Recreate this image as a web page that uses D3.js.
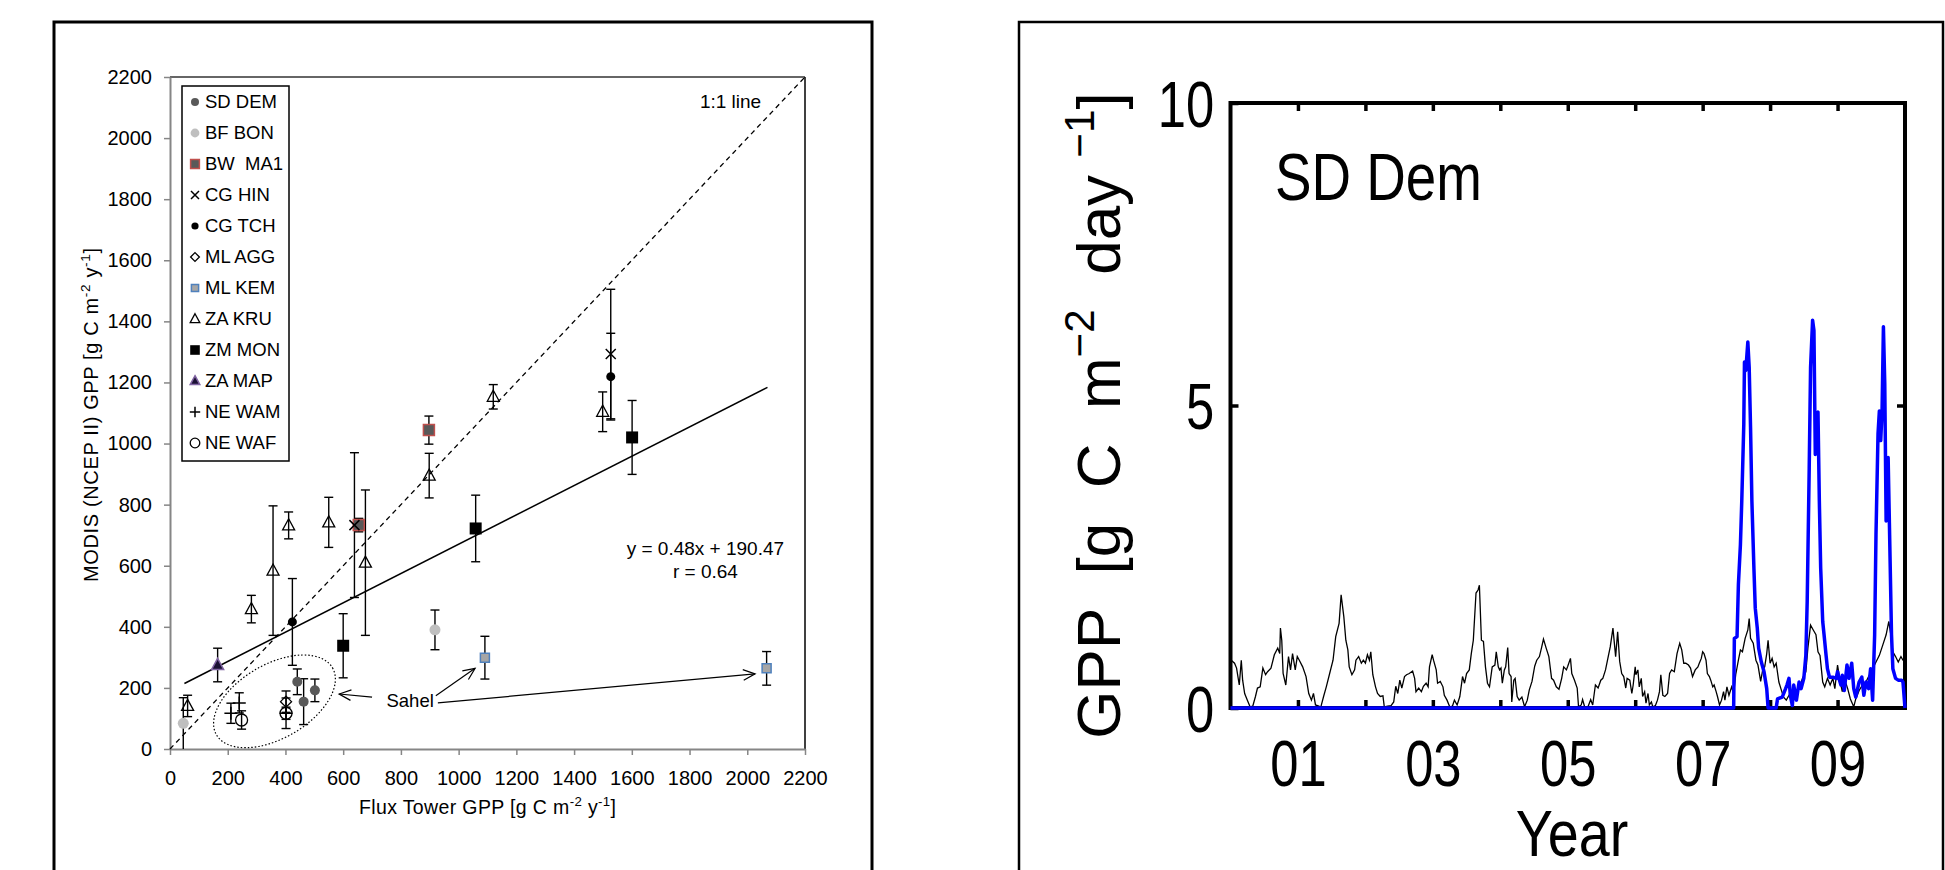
<!DOCTYPE html>
<html>
<head>
<meta charset="utf-8">
<script src="https://cdn.jsdelivr.net/npm/d3@7"></script>
<style>
  body { margin: 0; background: #fff; }
  svg { display: block; }
</style>
</head>
<body>
<div id="chart"></div>
<script>
// ---- left panel: MODIS vs flux tower GPP (one entry per point) ----
const siteNames = ['SD DEM', 'BF BON', 'BW  MA1', 'CG HIN', 'CG TCH', 'ML AGG',
                   'ML KEM', 'ZA KRU', 'ZM MON', 'ZA MAP', 'NE WAM', 'NE WAF'];
const pointSite = ['SD DEM', 'SD DEM', 'SD DEM', 'BF BON', 'BF BON', 'BW  MA1', 'BW  MA1',
                   'CG HIN', 'CG HIN', 'CG TCH', 'CG TCH', 'ML AGG', 'ML KEM', 'ML KEM',
                   'ZA KRU', 'ZA KRU', 'ZA KRU', 'ZA KRU', 'ZA KRU', 'ZA KRU', 'ZA KRU', 'ZA KRU', 'ZA KRU',
                   'ZM MON', 'ZM MON', 'ZM MON', 'ZA MAP', 'NE WAM', 'NE WAM', 'NE WAM', 'NE WAF', 'NE WAF'];
const towerGPP  = [441, 463, 502, 46, 918, 654, 897, 639, 1527, 424, 1527, 402, 1091, 2067,
                   61, 282, 357, 411, 550, 677, 898, 1120, 1499, 600, 1059, 1601, 165, 211, 240, 402, 248, 402];
const modisGPP  = [220, 155, 192, 84, 390, 733, 1044, 733, 1293, 416, 1219, 155, 299, 264,
                   141, 458, 584, 732, 742, 610, 895, 1153, 1104, 338, 722, 1020, 275, 117, 151, 117, 95, 117];
const modisErr  = [42, 75, 37, 84, 65, 22, 46, 237, 212, 142, 142, 35, 70, 55,
                   35, 45, 212, 44, 82, 238, 73, 40, 65, 105, 109, 121, 55, 33, 33, 20, 30, 50];
const gppTicks = [0, 200, 400, 600, 800, 1000, 1200, 1400, 1600, 1800, 2000, 2200];
const trendSlope = 0.48;
const trendIntercept = 190.47;
const trendR = 0.64;
const trendRange = [50, 2070];

// ---- right panel: SD Dem daily GPP time series ----
const modisDemYear = [
  2000.01,2000.06,2000.09,2000.13,2000.16,2000.18,2000.21,2000.25,2000.29,2000.33,2000.37,2000.40,2000.44,2000.48,
  2000.52,2000.55,2000.60,2000.65,2000.70,2000.73,2000.74,2000.76,2000.78,2000.82,2000.86,2000.89,2000.92,2000.96,
  2000.99,2001.02,2001.07,2001.12,2001.16,2001.20,2001.23,2001.26,2001.31,2001.34,2001.38,2001.42,2001.47,2001.52,
  2001.56,2001.61,2001.64,2001.68,2001.71,2001.74,2001.76,2001.80,2001.84,2001.86,2001.90,2001.94,2001.97,
  2002.00,2002.03,2002.06,2002.08,2002.11,2002.15,2002.18,2002.22,2002.26,2002.28,2002.33,2002.38,2002.42,2002.45,
  2002.48,2002.51,2002.54,2002.58,2002.61,2002.65,2002.70,2002.73,2002.75,2002.79,2002.83,2002.86,2002.90,2002.93,
  2002.95,2002.99,2003.01,2003.05,2003.07,2003.11,2003.15,2003.17,2003.21,2003.25,2003.29,2003.32,2003.36,2003.40,
  2003.44,2003.47,2003.50,2003.54,2003.57,2003.60,2003.64,2003.67,2003.69,2003.72,2003.75,2003.78,2003.81,2003.84,
  2003.88,2003.92,2003.94,2003.97,2003.99,
  2004.01,2004.03,2004.06,2004.08,2004.11,2004.13,2004.16,2004.17,2004.20,2004.22,2004.25,2004.28,2004.32,2004.36,
  2004.40,2004.43,2004.47,2004.51,2004.54,2004.58,2004.61,2004.64,2004.68,2004.72,2004.76,2004.79,2004.83,2004.87,
  2004.91,2004.94,2004.98,2005.00,2005.04,2005.06,2005.10,2005.14,2005.16,2005.20,2005.22,2005.25,2005.30,2005.34,
  2005.37,2005.41,2005.45,2005.49,2005.52,2005.56,2005.60,2005.63,2005.67,2005.71,2005.74,2005.77,2005.80,2005.83,
  2005.86,2005.88,2005.92,2005.95,2005.97,
  2006.00,2006.01,2006.04,2006.06,2006.09,2006.11,2006.14,2006.16,2006.19,2006.21,2006.24,2006.26,2006.30,2006.33,
  2006.36,2006.38,2006.41,2006.44,2006.48,2006.51,2006.54,2006.58,2006.62,2006.66,2006.69,2006.72,2006.75,2006.79,
  2006.82,2006.85,2006.89,2006.93,2006.95,2006.98,2007.00,2007.02,2007.05,2007.07,2007.10,2007.12,2007.15,2007.17,
  2007.20,2007.22,2007.25,2007.28,2007.31,2007.33,2007.36,2007.39,2007.43,2007.46,2007.49,2007.53,2007.56,2007.59,
  2007.63,2007.67,2007.69,2007.71,2007.75,2007.79,2007.82,2007.86,2007.89,2007.92,2007.95,2007.97,2008.00,2008.03,
  2008.06,2008.09,
  2008.13,2008.16,2008.20,2008.24,2008.28,2008.33,2008.38,2008.43,2008.48,2008.53,2008.56,2008.60,2008.64,2008.68,
  2008.71,2008.74,2008.78,2008.81,2008.85,2008.89,2008.93,2008.96,2009.00,2009.04,2009.07,2009.11,2009.15,2009.19,
  2009.24,2009.27,2009.32,2009.37,2009.42,2009.47,2009.52,2009.57,2009.62,2009.67,2009.72,2009.76,2009.79,2009.82,
  2009.86,2009.90,2009.94,2009.97,2010.00];
const modisDemGPP = [
  0.79,0.74,0.66,0.38,0.79,0.46,0.24,0.13,0.02,0.03,0.19,0.33,0.35,0.66,
  0.55,0.60,0.66,0.88,0.99,0.90,1.32,1.12,0.57,0.38,0.85,0.63,0.90,0.63,
  0.85,0.79,0.68,0.52,0.24,0.13,0.24,0.05,0.03,0.02,0.19,0.35,0.57,0.79,
  1.18,1.40,1.87,1.51,1.12,0.96,0.68,0.55,0.63,0.79,0.85,0.74,0.79,
  0.74,0.88,0.79,0.93,0.55,0.35,0.24,0.19,0.20,0.02,0.03,0.04,0.10,0.36,
  0.24,0.46,0.33,0.52,0.55,0.57,0.61,0.49,0.27,0.33,0.27,0.36,0.41,0.35,
  0.68,0.88,0.79,0.63,0.41,0.44,0.35,0.21,0.13,0.02,0.03,0.13,0.05,0.19,
  0.52,0.41,0.57,0.63,0.90,1.12,1.90,1.95,2.03,1.12,1.10,0.68,0.41,0.35,
  0.68,0.71,0.93,0.68,0.63,
  0.66,0.41,0.63,0.68,1.00,0.57,0.52,0.10,0.46,0.49,0.19,0.13,0.18,0.02,
  0.13,0.30,0.44,0.69,0.79,0.85,0.99,1.14,0.99,0.85,0.49,0.46,0.35,0.31,
  0.49,0.68,0.63,0.69,0.82,0.57,0.46,0.33,0.02,0.05,0.14,0.02,0.02,0.14,
  0.05,0.38,0.33,0.46,0.49,0.63,0.85,1.01,1.32,0.85,1.26,0.77,0.57,0.52,
  0.33,0.49,0.46,0.24,0.38,
  0.68,0.55,0.63,0.35,0.49,0.19,0.27,0.08,0.24,0.05,0.10,0.02,0.04,0.13,
  0.27,0.55,0.21,0.19,0.24,0.57,0.63,0.60,0.90,1.07,0.96,0.74,0.74,0.71,
  0.66,0.52,0.63,0.68,0.74,0.82,0.93,0.90,0.79,0.57,0.52,0.46,0.35,0.38,
  0.27,0.19,0.05,0.13,0.27,0.13,0.35,0.21,0.35,0.24,0.55,0.79,0.96,0.93,
  1.15,1.29,1.48,1.15,1.07,0.79,0.71,0.44,0.63,0.68,0.90,1.12,0.74,0.82,
  0.68,0.74,
  0.43,0.32,0.18,0.13,0.21,0.29,0.24,0.32,0.49,0.60,0.99,1.37,1.29,1.21,
  0.93,0.87,0.43,0.35,0.49,0.38,0.49,0.32,0.71,0.43,0.27,0.46,0.32,0.15,
  0.02,0.15,0.29,0.38,0.43,0.54,0.65,0.76,0.87,1.04,1.21,1.43,1.21,0.93,
  0.85,0.76,0.85,0.79,0.76];

const towerDemYear = [
  2000.00,2007.46,2007.47,2007.51,2007.53,2007.56,2007.58,2007.61,2007.62,2007.64,2007.67,2007.69,2007.71,2007.73,
  2007.76,2007.78,2007.81,2007.83,2007.87,2007.91,2007.95,2007.97,2008.09,2008.11,2008.18,2008.23,2008.25,2008.28,
  2008.30,2008.33,2008.35,2008.39,2008.43,2008.46,2008.50,2008.53,2008.55,2008.58,2008.60,2008.63,2008.65,2008.67,
  2008.69,2008.71,2008.73,2008.75,2008.78,2008.80,2008.83,2008.85,2008.88,2008.93,2008.98,2009.00,2009.02,2009.05,
  2009.07,2009.10,2009.14,2009.17,2009.21,2009.24,2009.27,2009.32,2009.36,2009.39,2009.42,2009.46,2009.49,2009.52,
  2009.55,2009.57,2009.60,2009.62,2009.64,2009.66,2009.68,2009.70,2009.72,2009.75,2009.77,2009.80,2009.82,2009.86,
  2009.90,2009.95,2009.97,2010.00];
const towerDemGPP = [
  0,0,1.15,1.18,2.04,2.70,3.42,4.69,5.72,5.58,6.05,5.63,4.64,3.42,
  2.31,1.65,1.32,0.99,0.76,0.60,0.32,0,0,0.15,0.18,0.32,0.38,0.49,
  0.21,0.04,0.38,0.13,0.43,0.32,0.49,0.87,1.76,3.97,5.63,6.41,6.24,4.19,
  4.86,4.89,3.42,2.31,1.43,1.21,0.87,0.65,0.51,0.51,0.49,0.60,0.49,0.38,
  0.54,0.29,0.71,0.49,0.74,0.32,0.18,0.43,0.51,0.21,0.43,0.32,0.65,0.13,
  1.21,2.87,4.53,4.91,4.42,4.91,6.30,5.36,3.09,4.14,2.98,1.21,0.65,0.49,
  0.46,0.46,0.43,0];
const yearTicks = [2001, 2002, 2003, 2004, 2005, 2006, 2007, 2008, 2009];
const dayGppTicks = [0, 5, 10];

const FONT = "'Liberation Sans', Arial, sans-serif";
const W = 1945, H = 870;
var svg;

// marker look of each site (legend + points)
const siteStyle = {
    'SD DEM':  {shape: 'circle',   size: 10, fill: '#595959', stroke: 'none', sw: 0},
    'BF BON':  {shape: 'circle',   size: 11, fill: '#bfbfbf', stroke: 'none', sw: 0},
    'BW  MA1': {shape: 'square',   size: 11, fill: '#595959', stroke: '#c0504d', sw: 1.5},
    'CG HIN':  {shape: 'x',        size: 10, fill: 'none',    stroke: '#000', sw: 1.5},
    'CG TCH':  {shape: 'circle',   size: 9,  fill: '#000',    stroke: 'none', sw: 0},
    'ML AGG':  {shape: 'diamond',  size: 11, fill: 'none',    stroke: '#000', sw: 1.3},
    'ML KEM':  {shape: 'square',   size: 9,  fill: '#a6a6a6', stroke: '#4f81bd', sw: 1.5},
    'ZA KRU':  {shape: 'triangle', size: 12, fill: 'none',    stroke: '#000', sw: 1.3},
    'ZM MON':  {shape: 'square',   size: 12, fill: '#000',    stroke: 'none', sw: 0},
    'ZA MAP':  {shape: 'triangle', size: 12, fill: '#1a1033', stroke: '#8064a2', sw: 1.5},
    'NE WAM':  {shape: 'plus',     size: 13, fill: 'none',    stroke: '#000', sw: 1.5},
    'NE WAF':  {shape: 'circle',   size: 12, fill: 'none',    stroke: '#000', sw: 1.3}
};

document.addEventListener('DOMContentLoaded', function () {
    svg = d3.select('#chart').append('svg')
        .attr('width', W)
        .attr('height', H)
        .attr('font-family', FONT);

    svg.append('rect').attr('width', W).attr('height', H).attr('fill', '#fff');

    // outer frames of the two panels (bottom edge runs off the page)
    svg.append('rect')
        .attr('x', 54).attr('y', 22).attr('width', 818).attr('height', H)
        .attr('fill', 'none').attr('stroke', '#000').attr('stroke-width', 3);
    svg.append('rect')
        .attr('x', 1019).attr('y', 22).attr('width', 924).attr('height', H)
        .attr('fill', 'none').attr('stroke', '#000').attr('stroke-width', 2.5);

    drawScatter();
    drawTimeSeries();
});

function markerPath(shape, s) {
    const h = s / 2;
    switch (shape) {
        case 'circle': return `M${-h},0A${h},${h} 0 1,0 ${h},0A${h},${h} 0 1,0 ${-h},0Z`;
        case 'square': return `M${-h},${-h}H${h}V${h}H${-h}Z`;
        case 'triangle': return `M0,${-h * 1.1}L${h},${h * 0.75}L${-h},${h * 0.75}Z`;
        case 'diamond': return `M0,${-h}L${h},0L0,${h}L${-h},0Z`;
        case 'x': return `M${-h},${-h}L${h},${h}M${h},${-h}L${-h},${h}`;
        case 'plus': return `M${-h},0H${h}M0,${-h}V${h}`;
    }
}

// text with superscript parts: parts = [[string, isSup], ...]
function supText(sel, parts, size) {
    let prevSup = false;
    parts.forEach(p => {
        let t = sel.append('tspan').text(p[0]);
        if (p[1]) {
            t.attr('font-size', size * 0.68).attr('dy', -size * 0.42);
        } else {
            t.attr('font-size', size);
            if (prevSup) t.attr('dy', size * 0.42);
        }
        prevSup = p[1];
    });
}

function arrow(g, x1, y1, x2, y2) {
    const a = Math.atan2(y2 - y1, x2 - x1);
    const L = 13;
    g.append('line').attr('x1', x1).attr('y1', y1).attr('x2', x2).attr('y2', y2);
    g.append('path').attr('fill', 'none')
        .attr('d', `M${x2 - L * Math.cos(a - 0.42)},${y2 - L * Math.sin(a - 0.42)}L${x2},${y2}` +
                   `L${x2 - L * Math.cos(a + 0.42)},${y2 - L * Math.sin(a + 0.42)}`);
}

function drawScatter() {
    const lx = d3.scaleLinear().domain([0, 2200]).range([170, 805]);
    const ly = d3.scaleLinear().domain([0, 2200]).range([749, 77]);

    // plot-area border (top and right)
    svg.append('line').attr('x1', lx(0)).attr('x2', lx(2200)).attr('y1', ly(2200)).attr('y2', ly(2200))
        .attr('stroke', '#666').attr('stroke-width', 2);
    svg.append('line').attr('x1', lx(2200)).attr('x2', lx(2200)).attr('y1', ly(2200)).attr('y2', ly(0))
        .attr('stroke', '#000').attr('stroke-width', 1.5);

    //x-axis
    let gx = svg.append('g')
        .attr('transform', `translate(0,${ly(0)})`)
        .call(d3.axisBottom(lx).tickValues(gppTicks).tickFormat(d3.format('d'))
            .tickSize(6).tickPadding(16).tickSizeOuter(0));
    //y-axis
    let gy = svg.append('g')
        .attr('transform', `translate(${lx(0)},0)`)
        .call(d3.axisLeft(ly).tickValues(gppTicks).tickFormat(d3.format('d'))
            .tickSize(6).tickPadding(12).tickSizeOuter(0));
    [gx, gy].forEach(g => {
        g.attr('font-family', FONT).attr('font-size', 20);
        g.select('.domain').attr('stroke', '#868686').attr('stroke-width', 2);
        g.selectAll('.tick line').attr('stroke', '#868686').attr('stroke-width', 1.5);
        g.selectAll('.tick text').attr('fill', '#000');
    });

    // axis titles
    let xt = svg.append('text')
        .attr('x', (lx(0) + lx(2200)) / 2).attr('y', 814)
        .attr('text-anchor', 'middle').style('white-space', 'pre')
        .attr('textLength', 257).attr('lengthAdjust', 'spacing');
    supText(xt, [['Flux Tower GPP [g C m', false], ['-2', true], [' y', false], ['-1', true], [']', false]], 19.5);

    let yt = svg.append('text')
        .attr('transform', `translate(98,${(ly(0) + ly(2200)) / 2 + 2}) rotate(-90)`)
        .attr('text-anchor', 'middle').style('white-space', 'pre')
        .attr('textLength', 334).attr('lengthAdjust', 'spacing');
    supText(yt, [['MODIS (NCEP II) GPP [g C m', false], ['-2', true], [' y', false], ['-1', true], [']', false]], 20);

    // 1:1 line
    svg.append('line')
        .attr('x1', lx(0)).attr('y1', ly(0)).attr('x2', lx(2200)).attr('y2', ly(2200))
        .attr('stroke', '#000').attr('stroke-width', 1.3).attr('stroke-dasharray', '5,4');
    svg.append('text').text('1:1 line')
        .attr('x', lx(1836)).attr('y', ly(2100)).attr('font-size', 19);

    // regression line
    svg.append('line')
        .attr('x1', lx(trendRange[0])).attr('y1', ly(trendSlope * trendRange[0] + trendIntercept))
        .attr('x2', lx(trendRange[1])).attr('y2', ly(trendSlope * trendRange[1] + trendIntercept))
        .attr('stroke', '#000').attr('stroke-width', 1.5);
    svg.append('text')
        .text(`y = ${trendSlope}x + ${trendIntercept}`)
        .attr('x', lx(1855)).attr('y', ly(635)).attr('text-anchor', 'middle').attr('font-size', 19);
    svg.append('text')
        .text(`r = ${trendR}`)
        .attr('x', lx(1855)).attr('y', ly(560)).attr('text-anchor', 'middle').attr('font-size', 19);

    // Sahel annotation
    svg.append('ellipse')
        .attr('transform', `translate(${lx(362)},${ly(156)}) rotate(-30)`)
        .attr('rx', 67).attr('ry', 37)
        .attr('fill', 'none').attr('stroke', '#000').attr('stroke-width', 1.2).attr('stroke-dasharray', '1.5,2');
    svg.append('text').text('Sahel')
        .attr('x', lx(750)).attr('y', ly(138)).attr('font-size', 18.5);
    let ga = svg.append('g').attr('stroke', '#000').attr('stroke-width', 1.2);
    arrow(ga, lx(700), ly(170), lx(586), ly(180));
    arrow(ga, lx(921), ly(174), lx(1057), ly(264));
    arrow(ga, lx(928), ly(151), lx(2027), ly(246));

    const points = towerGPP.map((d, i) => ({site: pointSite[i], x: d, y: modisGPP[i], err: modisErr[i]}));

    // error bars
    let ge = svg.append('g').attr('stroke', '#000').attr('stroke-width', 1.4);
    ge.selectAll('.err').data(points).join('line')
        .attr('class', 'err')
        .attr('x1', d => lx(d.x)).attr('x2', d => lx(d.x))
        .attr('y1', d => ly(Math.max(0, d.y - d.err))).attr('y2', d => ly(d.y + d.err));
    ge.selectAll('.capTop').data(points).join('line')
        .attr('class', 'capTop')
        .attr('x1', d => lx(d.x) - 4.5).attr('x2', d => lx(d.x) + 4.5)
        .attr('y1', d => ly(d.y + d.err)).attr('y2', d => ly(d.y + d.err));
    ge.selectAll('.capBot').data(points.filter(d => d.y - d.err > 0)).join('line')
        .attr('class', 'capBot')
        .attr('x1', d => lx(d.x) - 4.5).attr('x2', d => lx(d.x) + 4.5)
        .attr('y1', d => ly(d.y - d.err)).attr('y2', d => ly(d.y - d.err));

    // markers
    svg.append('g').selectAll('path').data(points).join('path')
        .attr('transform', d => `translate(${lx(d.x)},${ly(d.y)})`)
        .attr('d', d => markerPath(siteStyle[d.site].shape, siteStyle[d.site].size))
        .attr('fill', d => siteStyle[d.site].fill)
        .attr('stroke', d => siteStyle[d.site].stroke)
        .attr('stroke-width', d => siteStyle[d.site].sw);

    // legend
    let lg = svg.append('g');
    lg.append('rect').attr('x', 182).attr('y', 86).attr('width', 107).attr('height', 375)
        .attr('fill', '#fff').attr('stroke', '#000').attr('stroke-width', 1.5);
    siteNames.forEach((name, i) => {
        const s = siteStyle[name];
        const yy = 102 + i * 31;
        lg.append('path')
            .attr('transform', `translate(195,${yy})`)
            .attr('d', markerPath(s.shape, s.size * 0.8))
            .attr('fill', s.fill).attr('stroke', s.stroke).attr('stroke-width', s.sw);
        lg.append('text').text(name)
            .attr('x', 205).attr('y', yy).attr('dy', '0.35em')
            .attr('font-size', 18.5).style('white-space', 'pre');
    });
}

function drawTimeSeries() {
    const rx = d3.scaleLinear().domain([2000, 2010]).range([1230.5, 1905]);
    const ry = d3.scaleLinear().domain([0, 10]).range([708, 103]);
    const sx = 0.78; // narrow glyphs of the original

    // ticks on all four sides, drawn inwards
    let gb = svg.append('g').attr('transform', `translate(0,${ry(0)})`)
        .call(d3.axisBottom(rx).tickValues(yearTicks).tickSize(-8).tickPadding(32)
            .tickFormat(d => d % 2 ? d3.format('02')(d - 2000) : ''));
    let gt = svg.append('g').attr('transform', `translate(0,${ry(10)})`)
        .call(d3.axisTop(rx).tickValues(yearTicks).tickSize(-8).tickFormat(''));
    let gl = svg.append('g').attr('transform', `translate(${rx(2000)},0)`)
        .call(d3.axisLeft(ry).tickValues(dayGppTicks).tickSize(-8).tickPadding(21));
    let gr = svg.append('g').attr('transform', `translate(${rx(2010)},0)`)
        .call(d3.axisRight(ry).tickValues([5]).tickSize(-8).tickFormat(''));
    [gb, gt, gl, gr].forEach(g => {
        g.attr('font-family', FONT).attr('font-size', 65);
        g.select('.domain').remove();
        g.selectAll('.tick line').attr('stroke', '#000').attr('stroke-width', 3.5);
        g.selectAll('.tick text').attr('fill', '#000').attr('transform', `scale(${sx},1)`);
    });
    gl.selectAll('.tick text').attr('dy', '0.36em');

    // plot frame
    svg.append('rect')
        .attr('x', rx(2000)).attr('y', ry(10))
        .attr('width', rx(2010) - rx(2000)).attr('height', ry(0) - ry(10))
        .attr('fill', 'none').attr('stroke', '#000').attr('stroke-width', 4);

    const line = d3.line().x(d => rx(d[0])).y(d => ry(d[1]));
    svg.append('path')
        .datum(modisDemYear.map((t, i) => [t, modisDemGPP[i]]))
        .attr('d', line)
        .attr('fill', 'none').attr('stroke', '#000').attr('stroke-width', 1.3);
    svg.append('path')
        .datum(towerDemYear.map((t, i) => [t, towerDemGPP[i]]))
        .attr('d', line)
        .attr('fill', 'none').attr('stroke', '#0000ff').attr('stroke-width', 3.5)
        .attr('stroke-linejoin', 'round');

    // labels
    svg.append('text').text('SD Dem')
        .attr('transform', `translate(1275,200) scale(0.83,1)`)
        .attr('font-size', 66);
    svg.append('text').text('Year')
        .attr('transform', `translate(1572,856) scale(0.87,1)`)
        .attr('text-anchor', 'middle').attr('font-size', 64);
    let yt = svg.append('text')
        .attr('transform', `translate(1120,${(ry(0) + ry(10)) / 2 + 10}) rotate(-90)`)
        .attr('text-anchor', 'middle').style('white-space', 'pre');
    supText(yt, [['GPP  [g  C  m', false], ['\u22122', true], ['  day ', false], ['\u22121', true], [']', false]], 62);
}
</script>
</body>
</html>
